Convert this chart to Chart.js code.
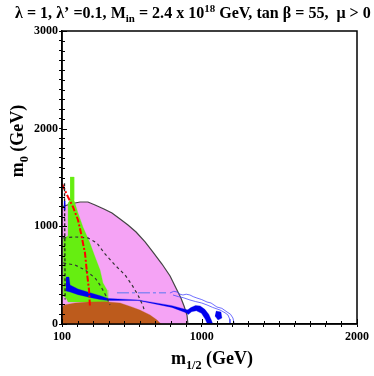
<!DOCTYPE html>
<html>
<head>
<meta charset="utf-8">
<script src="https://cdn.jsdelivr.net/npm/chart.js@4.4.1/dist/chart.umd.min.js"></script>
<style>
  html, body { margin: 0; padding: 0; background: #fff; }
</style>
</head>
<body>
<canvas id="plane" width="374" height="376"></canvas>
<script>
// points are [m_1/2, m_0] in GeV
const pinkRegion = [[100,1198],[152,1229],[216,1249],[267,1249],[313,1219],[370,1178],[422,1137],[474,1075],[525,1014],[577,942],[635,840],[686,737],[744,614],[796,492],[834,369],[866,266],[886,184],[905,92],[911,0],[100,0]]
const greenRegion = [[152,1505],[177,1505],[177,1270],[203,1137],[235,993],[280,829],[313,686],[345,553],[364,420],[390,348],[396,225],[139,225],[126,266],[108,287],[108,881],[139,901],[139,1239],[152,1270]]
const brownRegion = [[100,164],[113,195],[184,215],[267,225],[377,228],[474,215],[540,180],[602,143],[667,92],[712,41],[731,10],[740,0],[100,0]]
const blueBand = [[126,481],[145,481],[152,399],[203,358],[287,317],[351,287],[396,262],[589,247],[808,188],[911,143],[911,108],[808,170],[699,205],[589,240],[396,240],[345,250],[287,270],[203,300],[152,328],[126,338]]
const blueBlobA = [[899,133],[930,168],[960,190],[990,185],[1020,150],[1045,100],[1062,40],[1070,5],[1035,5],[1022,50],[998,110],[965,135],[935,125],[911,95]]
const blueBlobB = [[1092,133],[1124,123],[1130,61],[1105,41],[1085,82]]
const outerContour = [[795,317],[820,335],[841,328],[860,305],[879,297],[900,305],[924,297],[945,280],[969,266],[1000,250],[1034,225],[1060,215],[1098,174],[1130,160],[1163,123],[1185,100],[1201,61],[1208,10]]
const innerContour = [[815,297],[850,280],[880,270],[924,246],[960,230],[1000,215],[1034,195],[1070,170],[1118,143],[1150,115],[1169,92],[1180,50],[1182,10]]
const lavenderLine = [[454,321],[770,321]]
const redLine = [[100,1434],[139,1300],[171,1198],[203,1065],[222,932],[248,727],[261,522],[274,348],[280,174]]
const dashA = [[108,881],[184,891],[267,881],[325,829],[377,717],[441,604],[506,502],[551,399],[589,297],[622,184],[630,140]]
const dashB = [[108,625],[184,604],[248,553],[313,471],[345,399],[370,328],[390,266],[409,195]]
const leftDash = [[116,1440],[120,250]]
const blueTick = [[117,1260],[117,1170]]

const xLabels = [100, 1000, 2000]
const yLabels = [0, 1000, 2000, 3000]

const pts = arr => arr.map(p => ({x: p[0], y: p[1]}))

const region = (data, color, order, edge) => ({
    data: pts(data), showLine: true, pointRadius: 0, fill: 'shape',
    backgroundColor: color, borderColor: edge || color, borderWidth: edge ? 1.2 : 0.3, order: order
})
const curve = (data, color, width, dash, order) => ({
    data: pts(data), showLine: true, pointRadius: 0, fill: false,
    borderColor: color, borderWidth: width, borderDash: dash, order: order
})

const serif = 'Liberation Serif, Times New Roman, serif'

// text with sub / superscripts
const drawRich = (ctx, parts, x, y, size) => {
    let cx = x
    parts.forEach(p => {
        let s = p.sub || p.sup ? size * 0.68 : size
        ctx.font = `bold ${s}px ${serif}`
        let dy = p.sub ? size * 0.28 : p.sup ? -size * 0.4 : 0
        ctx.fillText(p.t, cx, y + dy)
        cx += ctx.measureText(p.t).width
    })
    return cx - x
}
const richWidth = (ctx, parts, size) => {
    let w = 0
    parts.forEach(p => {
        let s = p.sub || p.sup ? size * 0.68 : size
        ctx.font = `bold ${s}px ${serif}`
        w += ctx.measureText(p.t).width
    })
    return w
}

const titleParts = [{t: 'λ = 1, λ’ =0.1, M'}, {t: 'in', sub: true}, {t: ' = 2.4 x 10'}, {t: '18', sup: true}, {t: ' GeV, tan β = 55,  μ > 0'}]
const xTitle = [{t: 'm'}, {t: '1/2', sub: true}, {t: ' (GeV)'}]
const yTitle = [{t: 'm'}, {t: '0', sub: true}, {t: ' (GeV)'}]

const decor = {
    id: 'decor',
    afterDraw(chart) {
        const ctx = chart.ctx
        const a = chart.chartArea
        ctx.save()
        ctx.strokeStyle = '#000'
        ctx.lineWidth = 1.5
        ctx.strokeRect(a.left, a.top, a.right - a.left, a.bottom - a.top)

        // inner tick marks
        ctx.lineWidth = 1
        ctx.beginPath()
        chart.scales.x.ticks.forEach(t => {
            let px = Math.round(chart.scales.x.getPixelForValue(t.value)) + 0.5
            let len = xLabels.includes(t.value) ? 5 : 3
            ctx.moveTo(px, a.bottom); ctx.lineTo(px, a.bottom - len)
        })
        chart.scales.y.ticks.forEach(t => {
            let py = Math.round(chart.scales.y.getPixelForValue(t.value)) + 0.5
            let len = yLabels.includes(t.value) ? 5 : 3
            ctx.moveTo(a.left, py); ctx.lineTo(a.left + len, py)
        })
        ctx.stroke()

        ctx.fillStyle = '#000'
        ctx.textBaseline = 'alphabetic'
        ctx.textAlign = 'left'

        // title fitted to the width it takes in the picture
        let size = 16
        let w = richWidth(ctx, titleParts, size)
        size = Math.max(13, Math.min(19, size * 356 / w))
        drawRich(ctx, titleParts, 15, 18, size)

        let xw = richWidth(ctx, xTitle, 18)
        drawRich(ctx, xTitle, 212 - xw / 2, 364, 18)

        ctx.translate(23, 141)
        ctx.rotate(-Math.PI / 2)
        let yw = richWidth(ctx, yTitle, 18)
        drawRich(ctx, yTitle, -yw / 2, 0, 18)
        ctx.restore()
    }
}

const tickFont = {family: serif, weight: 'bold', size: 12}

new Chart(document.getElementById('plane').getContext('2d'), {
    type: 'scatter',
    data: {
        datasets: [
            curve(blueTick, '#0000ee', 1.5, [], 1),
            curve(leftDash, '#222', 1.3, [3, 2], 1),
            curve(redLine, '#ff0000', 2, [6, 2, 2, 2], 1),
            curve(dashA, '#333', 1.2, [3, 3], 2),
            curve(dashB, '#333', 1.2, [3, 3], 2),
            curve(lavenderLine, '#8c86f2', 1.5, [12, 3, 3, 3], 2),
            curve(outerContour, '#4a4aff', 0.8, [], 3),
            curve(innerContour, '#4a4aff', 0.8, [], 3),
            region(blueBand, '#0000ee', 4),
            region(blueBlobA, '#0000ee', 4),
            region(blueBlobB, '#0000ee', 4),
            region(brownRegion, '#bd5b1c', 5),
            region(greenRegion, '#66ee11', 6),
            region(pinkRegion, '#f5a3f5', 7, '#444'),
        ]
    },
    options: {
        responsive: false,
        animation: false,
        devicePixelRatio: 1,
        layout: { padding: {top: 31, right: 17, left: 0, bottom: 0} },
        plugins: {
            legend: { display: false },
            tooltip: { enabled: false }
        },
        scales: {
            x: {
                type: 'linear', min: 100, max: 2000,
                afterFit: s => { s.height = 52 },
                border: { color: '#000', width: 1.5 },
                grid: { drawOnChartArea: false, color: '#000', tickLength: 3 },
                ticks: {
                    stepSize: 100, autoSkip: false, maxRotation: 0, padding: 3,
                    color: '#000', font: tickFont,
                    callback: v => xLabels.includes(v) ? String(v) : ''
                }
            },
            y: {
                type: 'linear', min: 0, max: 3000,
                afterFit: s => { s.width = 62 },
                border: { color: '#000', width: 1.5 },
                grid: { drawOnChartArea: false, color: '#000', tickLength: 3 },
                ticks: {
                    stepSize: 100, autoSkip: false, padding: 1,
                    color: '#000', font: tickFont,
                    callback: v => yLabels.includes(v) ? String(v) : ''
                }
            }
        }
    },
    plugins: [decor]
})
</script>
</body>
</html>
